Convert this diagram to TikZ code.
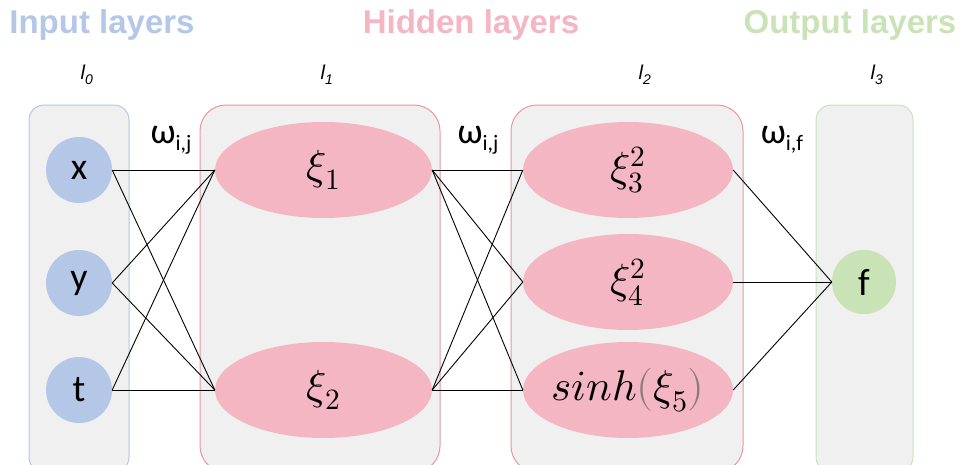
\documentclass[tikz,border=0pt]{standalone}
\usepackage{fontspec}
\usepackage{unicode-math}
\setmainfont{Carlito}
\setmathfont{Latin Modern Math}
\newfontfamily\arialf{Liberation Sans}
\usetikzlibrary{shapes.geometric}
\definecolor{inblue}{HTML}{B4C7E7}
\definecolor{hidpink}{HTML}{F4B6C2}
\definecolor{hidborder}{HTML}{EA96A2}
\definecolor{outgreen}{HTML}{C9E3B6}
\definecolor{boxgrey}{HTML}{F0F0F0}
\definecolor{parengrey}{HTML}{8C7A7A}
\begin{document}
\begin{tikzpicture}[x=1pt,y=-1pt,
  layerbox/.style={line width=1pt, fill=boxgrey},
  innode/.style={circle, fill=inblue, minimum size=66pt, inner sep=0pt, font=\fontsize{38}{40}\selectfont},
  outnode/.style={circle, fill=outgreen, minimum size=64pt, inner sep=0pt, font=\fontsize{38}{40}\selectfont},
  hidnode/.style={ellipse, fill=hidpink, minimum width=#1, minimum height=96pt, inner sep=0pt, font=\fontsize{42}{46}\selectfont},
  title/.style={font=\arialf\bfseries\fontsize{33}{36}\selectfont},
  layerlbl/.style={font=\arialf\itshape\fontsize{20}{22}\selectfont},
  wlbl/.style={font=\fontsize{36}{40}\selectfont},
  link/.style={draw=black, line width=0.9pt}]
\useasboundingbox (0,0) rectangle (960,464);
\clip (0,0) rectangle (960,464);
% titles
\node[title, text=inblue] (tin) at (102,25) {Input layers};
\node[title, text=hidpink] (thid) at (471,25) {Hidden layers};
\node[title, text=outgreen] (tout) at (850,25) {Output layers};
% layer labels
\node[layerlbl] (l0) at (87,75) {l\textsubscript{0}};
\node[layerlbl] (l1) at (327,75) {l\textsubscript{1}};
\node[layerlbl] (l2) at (645,75) {l\textsubscript{2}};
\node[layerlbl] (l3) at (877,75) {l\textsubscript{3}};
% boxes
\draw[layerbox, draw=inblue, rounded corners=15pt] (29,105) rectangle (129,472);
\draw[layerbox, draw=hidborder, rounded corners=26pt] (200,105) rectangle (440,472);
\draw[layerbox, draw=hidborder, rounded corners=26pt] (511,105) rectangle (743,472);
\draw[layerbox, draw=outgreen, rounded corners=15pt] (816,105) rectangle (913,472);
% nodes
\node[innode] (x) at (79,170) {x};
\node[innode] (y) at (79,283) {y};
\node[innode] (t) at (79,390) {t};
\node[hidnode=217pt] (h1) at (323.5,170) {$\xi_1$};
\node[hidnode=217pt] (h2) at (323.5,390) {$\xi_2$};
\node[hidnode=210pt] (h3) at (628,170) {$\xi_3^2$};
\node[hidnode=210pt] (h4) at (628,282) {$\xi_4^2$};
\node[hidnode=210pt, inner xsep=-30pt, inner ysep=-10pt, font=\fontsize{43}{46}\selectfont] (h5) at (628,390) {$sinh{\color{parengrey}(}\xi_5{\color{parengrey})}$};
\node[outnode] (f) at (864,282) {f};
% edges
\foreach \a in {x,y,t} \foreach \b in {h1,h2} \draw[link] (\a.east) -- (\b.west);
\foreach \a in {h1,h2} \foreach \b in {h3,h4,h5} \draw[link] (\a.east) -- (\b.west);
\foreach \a in {h3,h4,h5} \draw[link] (\a.east) -- (f.west);
% weight labels
\node[wlbl] (w1) at (171,140) {ω\raisebox{-7pt}{\fontsize{22}{24}\selectfont i,j}};
\node[wlbl] (w2) at (478,140) {ω\raisebox{-7pt}{\fontsize{22}{24}\selectfont i,j}};
\node[wlbl] (w3) at (782,140) {ω\raisebox{-7pt}{\fontsize{22}{24}\selectfont i,f}};
\end{tikzpicture}
\end{document}
